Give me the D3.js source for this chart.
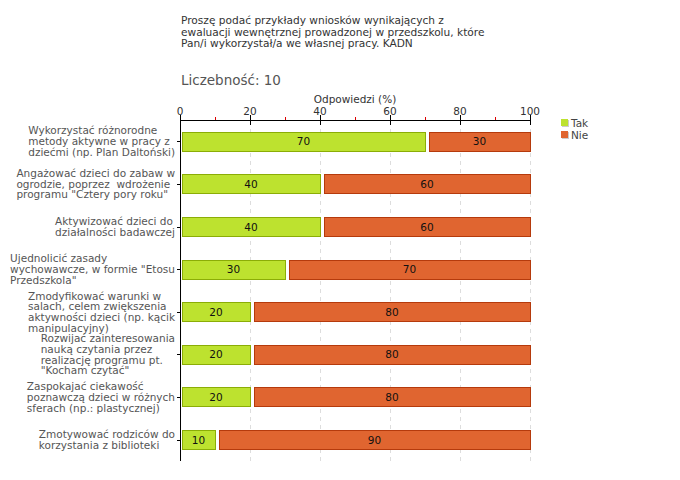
<!DOCTYPE html>
<html><head><meta charset="utf-8">
<script src="https://cdn.jsdelivr.net/npm/d3@7"></script>
<style>body{margin:0;background:#fff}svg{display:block}text{white-space:pre}</style>
</head><body>
<svg id="c" width="680" height="480"></svg>
<script>
const titleLines = ["Proszę podać przykłady wniosków wynikających z","ewaluacji wewnętrznej prowadzonej w przedszkolu, które","Pan/i wykorzystał/a we własnej pracy. KADN"];
const countLabel = "Liczebność: 10";
const axisTitle = "Odpowiedzi (%)";
const categories = [
 ["Wykorzystać różnorodne","metody aktywne w pracy z","dziećmi (np. Plan Daltoński)"],
 ["Angażować dzieci do zabaw w","ogrodzie, poprzez  wdrożenie","programu \"Cztery pory roku\""],
 ["Aktywizować dzieci do","działalności badawczej"],
 ["Ujednolicić zasady","wychowawcze, w formie \"Etosu","Przedszkola\""],
 ["Zmodyfikować warunki w","salach, celem zwiększenia","aktywności dzieci (np. kącik","manipulacyjny)"],
 ["Rozwijać zainteresowania","nauką czytania przez","realizację programu pt.","\"Kocham czytać\""],
 ["Zaspokajać ciekawość","poznawczą dzieci w różnych","sferach (np.: plastycznej)"],
 ["Zmotywować rodziców do","korzystania z biblioteki"]
];
const tak = [70,40,40,30,20,20,20,10];
const nie = [30,60,60,70,80,80,80,90];
const seriesNames = ["Tak","Nie"];
const majorTicks = [0,20,40,60,80,100];
const minorTicks = [10,30,50,70,90];

const font = "'DejaVu Sans', Verdana, sans-serif";
const svg = d3.select("#c");
const x = d3.scaleLinear().domain([0,100]).range([180,530]);
const y = d3.scaleBand().domain(d3.range(categories.length)).range([120,461]).paddingInner(0.55).paddingOuter(0.275);

// title
svg.append("g").selectAll("text").data(titleLines).join("text")
  .attr("x",181).attr("y",(d,i)=>24+i*11.5).attr("font-family",font).attr("font-size",10.6)
  .attr("fill","#333").text(d=>d);
svg.append("text").attr("x",181).attr("y",85).attr("font-family",font).attr("font-size",13.5)
  .attr("fill","#555").text(countLabel);
svg.append("text").attr("x",(x(0)+x(100))/2).attr("y",103).attr("text-anchor","middle")
  .attr("font-family",font).attr("font-size",10.5).attr("fill","#333").text(axisTitle);

// grid
svg.append("g").selectAll("line").data(majorTicks.filter(d=>d>0)).join("line")
  .attr("x1",d=>x(d)+0.5).attr("x2",d=>x(d)+0.5).attr("y1",121).attr("y2",461)
  .attr("stroke","#ddd").attr("stroke-dasharray","4,4");

// top axis
const ax = svg.append("g");
ax.append("line").attr("x1",x(0)).attr("x2",x(100)).attr("y1",120.5).attr("y2",120.5).attr("stroke","#000");
ax.selectAll(".mj").data(majorTicks).join("line").attr("class","mj")
  .attr("x1",d=>x(d)+0.5).attr("x2",d=>x(d)+0.5).attr("y1",115).attr("y2",125).attr("stroke","#000");
ax.selectAll(".mn").data(minorTicks).join("line").attr("class","mn")
  .attr("x1",d=>x(d)+0.5).attr("x2",d=>x(d)+0.5).attr("y1",117).attr("y2",120).attr("stroke","#d00");
ax.selectAll("text").data(majorTicks).join("text")
  .attr("x",d=>x(d)).attr("y",115).attr("text-anchor","middle")
  .attr("font-family",font).attr("font-size",10.5).attr("fill","#333").text(d=>d);

// left axis
svg.append("line").attr("x1",180.5).attr("x2",180.5).attr("y1",120).attr("y2",461).attr("stroke","#000");
svg.append("g").selectAll("line").data(categories).join("line")
  .attr("x1",177).attr("x2",180).attr("y1",(d,i)=>Math.round(y(i)+y.bandwidth()/2)+0.5)
  .attr("y2",(d,i)=>Math.round(y(i)+y.bandwidth()/2)+0.5).attr("stroke","#000");

// category labels
const lh = 10.7;
categories.forEach((lines,i)=>{
  const cy = y(i)+y.bandwidth()/2;
  const g = svg.append("g");
  const t = g.selectAll("text").data(lines).join("text")
    .attr("y",(d,j)=>cy+(j-(lines.length-1)/2)*lh+3.8)
    .attr("font-family",font).attr("font-size",10.5).attr("fill","#555").text(d=>d);
  let w=0; t.each(function(){w=Math.max(w,this.getComputedTextLength());});
  t.attr("x",175-w);
});

// bars
const bh = y.bandwidth();
const rows = categories.map((c,i)=>({i,t:tak[i],n:nie[i]}));
const bars = svg.append("g");
bars.selectAll(".tak").data(rows).join("rect").attr("class","tak")
  .attr("x",x(0)+2.5).attr("y",d=>Math.round(y(d.i))+0.5)
  .attr("width",d=>x(d.t)-x(0)-2).attr("height",Math.round(bh))
  .attr("fill","#bde22f").attr("stroke","#8bad06");
bars.selectAll(".nie").data(rows).join("rect").attr("class","nie")
  .attr("x",d=>x(d.t)+4.5).attr("y",d=>Math.round(y(d.i))+0.5)
  .attr("width",d=>x(100)-x(d.t)-4).attr("height",Math.round(bh))
  .attr("fill","#e06530").attr("stroke","#b53a0c");
bars.selectAll(".tl").data(rows).join("text")
  .attr("x",d=>(x(0)+2+x(d.t))/2).attr("y",d=>y(d.i)+bh/2+4).attr("text-anchor","middle")
  .attr("font-family",font).attr("font-size",10.5).attr("fill","#111").text(d=>d.t);
bars.selectAll(".nl").data(rows).join("text")
  .attr("x",d=>(x(d.t)+4+x(100))/2).attr("y",d=>y(d.i)+bh/2+4).attr("text-anchor","middle")
  .attr("font-family",font).attr("font-size",10.5).attr("fill","#111").text(d=>d.n);

// legend
const colors = ["#bde22f","#e06530"];
const lg = svg.append("g");
seriesNames.forEach((s,i)=>{
  lg.append("rect").attr("x",562).attr("y",120+i*12).attr("width",7).attr("height",7).attr("fill","#ccc");
  lg.append("rect").attr("x",561).attr("y",119+i*12).attr("width",7).attr("height",7).attr("fill",colors[i]);
  lg.append("text").attr("x",571).attr("y",127+i*12).attr("font-family",font).attr("font-size",10.5)
    .attr("fill","#444").text(s);
});
</script>
</body></html>
